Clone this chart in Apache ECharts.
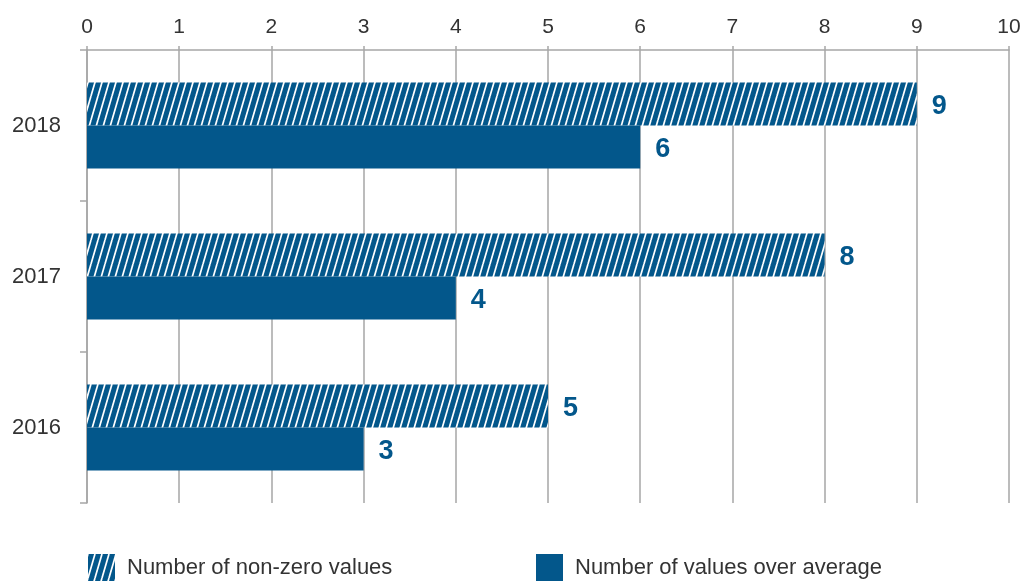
<!DOCTYPE html>
<html>
<head>
<meta charset="utf-8">
<script src="https://cdn.jsdelivr.net/npm/echarts@6/dist/echarts.min.js"></script>
<style>
html,body{margin:0;padding:0;background:#fff;}
#chart{width:1025px;height:581px;}
</style>
</head>
<body>
<div id="chart"></div>
<script>
const years = ['2016', '2017', '2018'];
const nonZeroValues = [5, 8, 9];
const overAverageValues = [3, 4, 6];
const seriesNames = ['Number of non-zero values', 'Number of values over average'];
const xTicks = [0, 1, 2, 3, 4, 5, 6, 7, 8, 9, 10];

const BLUE = '#03578b';
const GRAY_TEXT = '#333333';
const FONT = '"Liberation Sans", Arial, sans-serif';

function makeHatch() {
  const w = 7, h = 24;
  const c = document.createElement('canvas');
  c.width = w; c.height = h;
  const ctx = c.getContext('2d');
  ctx.fillStyle = BLUE;
  ctx.fillRect(0, 0, w, h);
  ctx.strokeStyle = '#ffffff';
  ctx.lineWidth = 1.7;
  for (const dx of [-w, 0, w]) {
    ctx.beginPath();
    ctx.moveTo(dx, h);
    ctx.lineTo(dx + w, 0);
    ctx.stroke();
  }
  return c;
}
const hatch = { image: makeHatch(), repeat: 'repeat' };

const chart = echarts.init(document.getElementById('chart'));
const labelStyle = {
  show: true,
  position: 'right',
  distance: 15,
  offset: [0, 3],
  color: BLUE,
  fontFamily: FONT,
  fontWeight: 'bold',
  fontSize: 27
};
const legendBase = {
  top: 554, itemWidth: 27, itemHeight: 27, itemGap: 0, padding: 0,
  icon: 'rect',
  textStyle: { color: GRAY_TEXT, fontFamily: FONT, fontSize: 22, padding: [10, 0, 0, 7] }
};
chart.setOption({
  animation: false,
  backgroundColor: '#fff',
  grid: { left: 87, right: 16, top: 50, bottom: 78, containLabel: false },
  xAxis: {
    type: 'value',
    position: 'top',
    min: 0, max: 10, interval: 1,
    axisLine: { show: true, lineStyle: { color: '#a6a6a6', width: 1.5 } },
    axisTick: { show: true, length: 4, lineStyle: { color: '#a6a6a6', width: 1.5 } },
    splitLine: { show: true, lineStyle: { color: '#a6a6a6', width: 1.5 } },
    axisLabel: {
      margin: 12, color: GRAY_TEXT, fontFamily: FONT, fontSize: 21,
      formatter: v => xTicks.includes(v) ? String(v) : ''
    }
  },
  yAxis: {
    type: 'category',
    data: years,
    axisLine: { show: true, lineStyle: { color: '#a6a6a6', width: 1.5 } },
    axisTick: { show: true, length: 7, lineStyle: { color: '#a6a6a6', width: 1.5 } },
    axisLabel: { margin: 26, color: GRAY_TEXT, fontFamily: FONT, fontSize: 22 }
  },
  legend: [
    Object.assign({ left: 88, data: [seriesNames[0]] }, legendBase),
    Object.assign({ left: 536, data: [seriesNames[1]] }, legendBase)
  ],
  series: [
    {
      name: seriesNames[0],
      type: 'bar',
      data: nonZeroValues,
      barWidth: 43,
      barGap: '0%',
      itemStyle: { color: hatch },
      label: labelStyle
    },
    {
      name: seriesNames[1],
      type: 'bar',
      data: overAverageValues,
      barWidth: 43,
      barGap: '0%',
      itemStyle: { color: BLUE },
      label: labelStyle
    }
  ]
});
</script>
</body>
</html>
